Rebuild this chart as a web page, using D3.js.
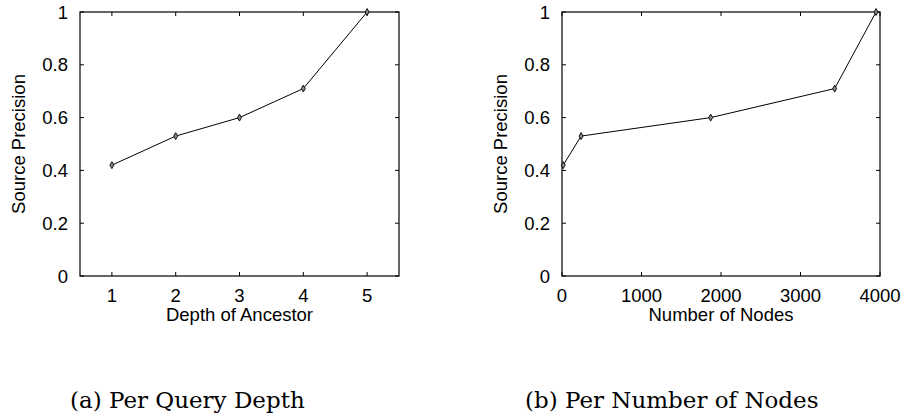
<!DOCTYPE html>
<html>
<head>
<meta charset="utf-8">
<script src="https://cdn.jsdelivr.net/npm/d3@7"></script>
<style>
  body { margin: 0; background: #fff; }
  svg { display: block; }
</style>
</head>
<body>
<svg id="chart" width="905" height="418"></svg>
<script>
// data
var depthLevels = [1, 2, 3, 4, 5];
var depthPrecision = [0.42, 0.53, 0.60, 0.71, 1.0];

var nodeCounts = [15, 240, 1870, 3430, 3950];
var nodePrecision = [0.42, 0.53, 0.60, 0.71, 1.0];

var yTicks = [0, 0.2, 0.4, 0.6, 0.8, 1];
var depthTicks = [1, 2, 3, 4, 5];
var nodeTicks = [0, 1000, 2000, 3000, 4000];

var captions = ["(a) Per Query Depth", "(b) Per Number of Nodes"];

var svg = d3.select("#chart");

// plot frame, same for both panels
var plotTop = 12, plotBottom = 276;
var tickLen = 4;
var axisFont = "'Liberation Sans', Arial, sans-serif";

function drawPanel(opts) {
  var x = d3.scaleLinear().domain(opts.xDomain).range([opts.left, opts.right]);
  var y = d3.scaleLinear().domain([0, 1]).range([plotBottom, plotTop]);
  var g = svg.append("g");

  // frame
  g.append("rect")
    .attr("x", opts.left)
    .attr("y", plotTop)
    .attr("width", opts.right - opts.left)
    .attr("height", plotBottom - plotTop)
    .attr("fill", "none")
    .attr("stroke", "#000")
    .attr("stroke-width", 1.2);

  // y ticks on both sides, pointing in
  var yt = g.append("g").selectAll("g").data(yTicks).enter().append("g");
  yt.append("line")
    .attr("x1", opts.left).attr("x2", opts.left + tickLen)
    .attr("y1", function(d) { return y(d); }).attr("y2", function(d) { return y(d); })
    .attr("stroke", "#000");
  yt.append("line")
    .attr("x1", opts.right).attr("x2", opts.right - tickLen)
    .attr("y1", function(d) { return y(d); }).attr("y2", function(d) { return y(d); })
    .attr("stroke", "#000");
  yt.append("text")
    .attr("x", opts.left - 12)
    .attr("y", function(d) { return y(d) + 6.5; })
    .attr("text-anchor", "end")
    .style("font-family", axisFont)
    .style("font-size", "18.5px")
    .text(function(d) { return d3.format("")(d); });

  // x ticks on both sides, pointing in
  var xt = g.append("g").selectAll("g").data(opts.xTicks).enter().append("g");
  xt.append("line")
    .attr("x1", function(d) { return x(d); }).attr("x2", function(d) { return x(d); })
    .attr("y1", plotBottom).attr("y2", plotBottom - tickLen)
    .attr("stroke", "#000");
  xt.append("line")
    .attr("x1", function(d) { return x(d); }).attr("x2", function(d) { return x(d); })
    .attr("y1", plotTop).attr("y2", plotTop + tickLen)
    .attr("stroke", "#000");
  xt.append("text")
    .attr("x", function(d) { return x(d); })
    .attr("y", 302)
    .attr("text-anchor", "middle")
    .style("font-family", axisFont)
    .style("font-size", "18.5px")
    .text(function(d) { return d; });

  // axis titles
  g.append("text")
    .attr("x", (opts.left + opts.right) / 2)
    .attr("y", 321)
    .attr("text-anchor", "middle")
    .style("font-family", axisFont)
    .style("font-size", "18.5px")
    .text(opts.xLabel);

  g.append("text")
    .attr("transform", "translate(" + (opts.left - 55) + "," + ((plotTop + plotBottom) / 2) + ")rotate(-90)")
    .attr("text-anchor", "middle")
    .style("font-family", axisFont)
    .style("font-size", "18.5px")
    .text("Source Precision");

  // series
  var pts = opts.xs.map(function(v, i) { return [v, opts.ys[i]]; });
  g.append("path")
    .datum(pts)
    .attr("fill", "none")
    .attr("stroke", "#000")
    .attr("stroke-width", 1)
    .attr("d", d3.line()
      .x(function(d) { return x(d[0]); })
      .y(function(d) { return y(d[1]); }));

  g.selectAll(".pt")
    .data(pts)
    .enter()
    .append("path")
    .attr("class", "pt")
    .attr("transform", function(d) { return "translate(" + x(d[0]) + "," + y(d[1]) + ")"; })
    .attr("d", d3.symbol().type(d3.symbolDiamond).size(14))
    .attr("fill", "#888")
    .attr("stroke", "#000")
    .attr("stroke-width", 0.9);

  // caption under the panel
  svg.append("text")
    .attr("x", opts.capX)
    .attr("y", 408)
    .style("font-family", "'DejaVu Serif', 'Liberation Serif', serif")
    .style("font-size", "23px")
    .text(opts.caption);
}

drawPanel({
  left: 80, right: 399,
  xDomain: [0.5, 5.5],
  xTicks: depthTicks,
  xs: depthLevels, ys: depthPrecision,
  xLabel: "Depth of Ancestor",
  caption: captions[0], capX: 70
});

drawPanel({
  left: 562, right: 880,
  xDomain: [0, 4000],
  xTicks: nodeTicks,
  xs: nodeCounts, ys: nodePrecision,
  xLabel: "Number of Nodes",
  caption: captions[1], capX: 525
});
</script>
</body>
</html>
